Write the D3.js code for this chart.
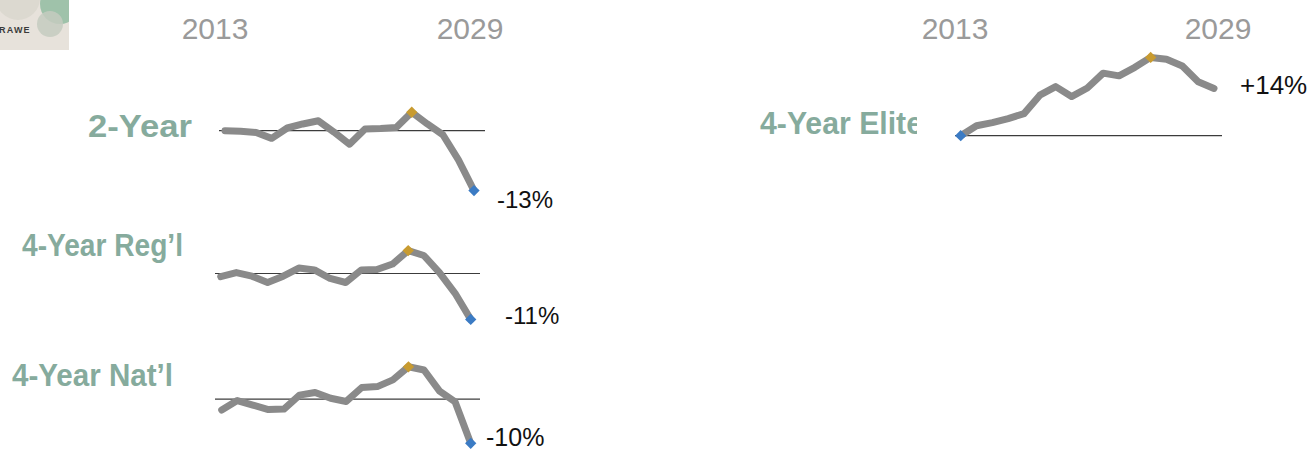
<!DOCTYPE html>
<html>
<head>
<meta charset="utf-8">
<script src="https://cdn.jsdelivr.net/npm/d3@7"></script>
<style>
  html, body { margin: 0; padding: 0; background: #fff; }
  svg { display: block; font-family: "Liberation Sans", Arial, sans-serif; }
</style>
</head>
<body>
<svg id="root"></svg>
<script>
// years on the x axis
const years = d3.range(2013, 2030);

// change vs. reference level, in percent points
const twoYear = [0, -0.1, -0.4, -1.7, 0.6, 1.5, 2.2, -0.3, -3.0, 0.4, 0.5, 0.7, 4.1, 1.5, -0.9, -6.5, -13.3];
const fourYearRegl = [-0.7, 0.2, -0.6, -2.0, -0.6, 1.2, 0.8, -1.1, -2.0, 0.8, 0.9, 2.1, 5.1, 4.0, 0.2, -4.4, -10.2];
const fourYearNatl = [-2.4, -0.3, -1.3, -2.3, -2.2, 0.9, 1.5, 0.2, -0.5, 2.6, 2.8, 4.3, 7.2, 6.5, 1.8, -0.6, -9.8];
const fourYearElite = [0, 2.2, 2.9, 3.8, 4.9, 9.0, 10.9, 8.7, 10.6, 13.9, 13.3, 15.2, 17.4, 17.0, 15.5, 12.0, 10.5];

const seriesNames = ["2-Year", "4-Year Reg\u2019l", "4-Year Nat\u2019l", "4-Year Elite"];
const changeLabels = ["-13%", "-11%", "-10%", "+14%"];
const yearLabels = ["2013", "2029"];

(function () {
  const width = 1312, height = 452;
  const svg = d3.select("#root").attr("width", width).attr("height", height);

  const lineColor = "#8a8a8a";
  const maxColor = "#c89b30";
  const minColor = "#3b7bc4";
  const labelColor = "#86ab9d";

  // panel layout (screen positions only)
  const panels = [
    { data: twoYear, x0: 225, x1: 474, base: 130.7, ruleX: [219, 485],
      name: { x: 192, y: 137, w: 104, anchor: "end" }, pct: { x: 497, y: 208, size: 24 } },
    { data: fourYearRegl, x0: 220.7, x1: 470.7, base: 273.5, ruleX: [215, 480],
      name: { x: 183, y: 256, w: 161, anchor: "end" }, pct: { x: 505, y: 324, size: 24 } },
    { data: fourYearNatl, x0: 221.7, x1: 470.7, base: 399.2, ruleX: [215, 480],
      name: { x: 173, y: 386, w: 161, anchor: "end" }, pct: { x: 486, y: 446, size: 25 } },
    { data: fourYearElite, x0: 960.7, x1: 1214, base: 135.7, ruleX: [955, 1222],
      name: { x: 760, y: 134, w: 163, anchor: "start", clip: 917 }, pct: { x: 1240, y: 94, size: 26 } }
  ];

  const pxPerPoint = 4.5;
  const defs = svg.append("defs");

  // logo fragment, top-left
  defs.append("clipPath").attr("id", "logoClip")
    .append("rect").attr("x", 0).attr("y", 0).attr("width", 69).attr("height", 50);
  const logo = svg.append("g").attr("clip-path", "url(#logoClip)");
  logo.append("rect").attr("x", 0).attr("y", 0).attr("width", 69).attr("height", 50).attr("fill", "#e7e2db");
  logo.append("circle").attr("cx", 18).attr("cy", -2).attr("r", 22).attr("fill", "#dcd9d0");
  logo.append("circle").attr("cx", 60).attr("cy", 4).attr("r", 20).attr("fill", "#9fc2aa");
  logo.append("circle").attr("cx", 50).attr("cy", 24).attr("r", 13).attr("fill", "#c4cbbf").attr("opacity", 0.85);
  logo.append("text").attr("x", -1).attr("y", 33).attr("font-size", 9).attr("font-weight", "bold")
    .attr("letter-spacing", 1.2).attr("fill", "#3a3a3a").text("RAWE");

  // year headers
  const headers = [
    { x: 215, t: yearLabels[0] }, { x: 470, t: yearLabels[1] },
    { x: 955, t: yearLabels[0] }, { x: 1218, t: yearLabels[1] }
  ];
  svg.selectAll(".year")
    .data(headers)
    .enter().append("text")
    .attr("class", "year")
    .attr("x", d => d.x)
    .attr("y", 39)
    .attr("text-anchor", "middle")
    .attr("font-size", 30)
    .attr("fill", "#9a9a9a")
    .text(d => d.t);

  panels.forEach((p, i) => {
    const x = d3.scaleLinear().domain([years[0], years[years.length - 1]]).range([p.x0, p.x1]);
    const y = d3.scaleLinear().domain([0, 1]).range([p.base, p.base - pxPerPoint]);
    const g = svg.append("g");

    // reference rule
    g.append("line")
      .attr("x1", p.ruleX[0]).attr("x2", p.ruleX[1])
      .attr("y1", y(0)).attr("y2", y(0))
      .attr("stroke", "#3c3c3c").attr("stroke-width", 1.2);

    const line = d3.line()
      .x((d, j) => x(years[j]))
      .y(d => y(d));

    g.append("path")
      .datum(p.data)
      .attr("d", line)
      .attr("fill", "none")
      .attr("stroke", lineColor)
      .attr("stroke-width", 7)
      .attr("stroke-linejoin", "round")
      .attr("stroke-linecap", "round");

    // high / low markers
    const marks = [
      { j: d3.maxIndex(p.data), c: maxColor },
      { j: d3.minIndex(p.data), c: minColor }
    ];
    g.selectAll(".mark")
      .data(marks)
      .enter().append("rect")
      .attr("class", "mark")
      .attr("x", -4).attr("y", -4).attr("width", 8).attr("height", 8)
      .attr("fill", d => d.c)
      .attr("transform", d => `translate(${x(years[d.j])},${y(p.data[d.j])}) rotate(45)`);

    // series name
    const name = g.append("text")
      .attr("x", p.name.x).attr("y", p.name.y)
      .attr("text-anchor", p.name.anchor)
      .attr("font-size", 32)
      .attr("font-weight", "bold")
      .attr("textLength", p.name.w)
      .attr("lengthAdjust", "spacingAndGlyphs")
      .attr("fill", labelColor)
      .text(seriesNames[i]);
    if (p.name.clip) {
      defs.append("clipPath").attr("id", "clip" + i)
        .append("rect").attr("x", 0).attr("y", 0).attr("width", p.name.clip).attr("height", height);
      name.attr("clip-path", `url(#clip${i})`);
    }

    // change label
    g.append("text")
      .attr("x", p.pct.x).attr("y", p.pct.y)
      .attr("font-size", p.pct.size)
      .attr("fill", "#111")
      .text(changeLabels[i]);
  });
})();
</script>
</body>
</html>
